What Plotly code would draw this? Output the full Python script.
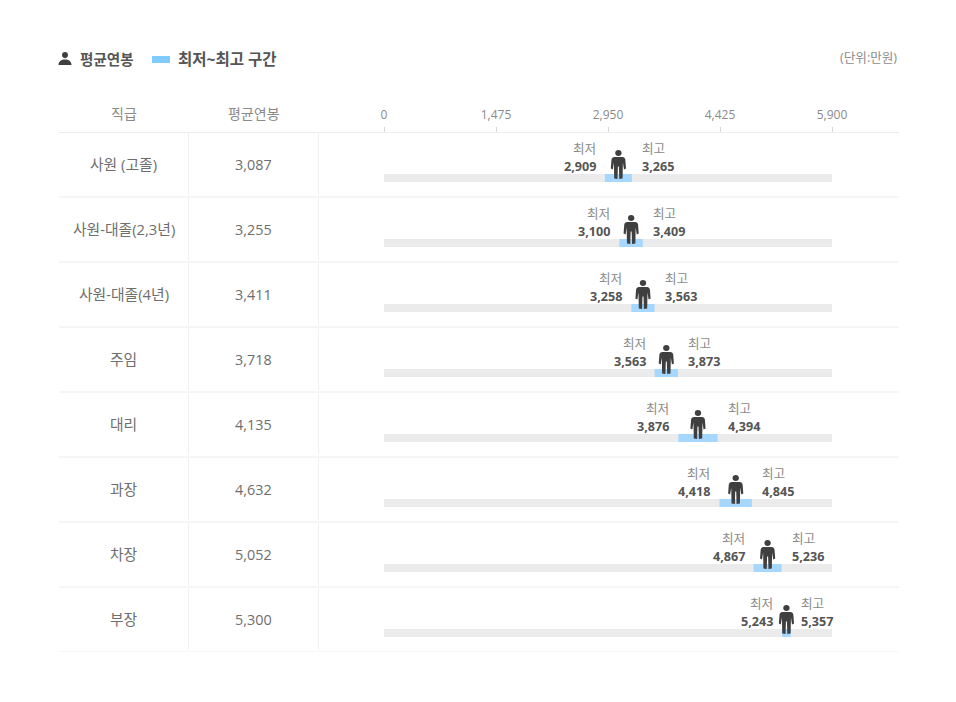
import plotly.graph_objects as go

# data
grades = ["사원 (고졸)", "사원-대졸(2,3년)", "사원-대졸(4년)", "주임", "대리", "과장", "차장", "부장"]
avg_pay = [3087, 3255, 3411, 3718, 4135, 4632, 5052, 5300]
low_pay = [2909, 3100, 3258, 3563, 3876, 4418, 4867, 5243]
high_pay = [3265, 3409, 3563, 3873, 4394, 4845, 5236, 5357]
axis_ticks = [0, 1475, 2950, 4425, 5900]
axis_max = 5900
track_pad = 13

W, H = 956, 702
FONT = "Open Sans, Noto Sans CJK KR, sans-serif"
GREY = "#8a8a8a"
TEXT = "#6e6e6e"
DARK = "#555555"
LINE = "#ececec"
ICON = "#3f3f3f"

# person icon, pixels around its anchor (y points up here)
PERSON = (
    "M0,14.5 C1.9,14.5 3.2,13.2 3.2,11.5 C3.2,9.8 1.9,8.5 0,8.5 "
    "C-1.9,8.5 -3.2,9.8 -3.2,11.5 C-3.2,13.2 -1.9,14.5 0,14.5 Z "
    "M-4,7.5 L4,7.5 C5.6,7.5 6.6,6.5 6.9,5 L7.6,-4 L5.6,-5 L4.5,2 L4.2,-14 L0.9,-14.5 "
    "L0.5,-2 L-0.5,-2 L-0.9,-14.5 L-4.2,-14 L-4.5,2 L-5.6,-5 L-7.6,-4 L-6.9,5 C-6.6,6.5 -5.6,7.5 -4,7.5 Z"
)
PERSON_SMALL = (
    "M0,6.5 C1.8,6.5 3,5.2 3,3.4 C3,1.6 1.8,0.3 0,0.3 C-1.8,0.3 -3,1.6 -3,3.4 "
    "C-3,5.2 -1.8,6.5 0,6.5 Z M-6.5,-6.5 C-6.5,-2.8 -3.5,-1 0,-1 C3.5,-1 6.5,-2.8 6.5,-6.5 Z"
)

fig = go.Figure()

# grey track
fig.add_trace(go.Bar(
    y=grades, x=[axis_max + 2 * track_pad] * len(grades), base=-track_pad, orientation="h",
    width=8 / 65, offset=9.5 / 65, marker=dict(color="#ebebeb", line_width=0), hoverinfo="skip",
    cliponaxis=False,
))
# low-high band
fig.add_trace(go.Bar(
    y=grades, x=[h - l for h, l in zip(high_pay, low_pay)], base=low_pay, orientation="h",
    width=8 / 65, offset=9.5 / 65, marker=dict(color="#a6d8ff", line_width=0), hoverinfo="skip",
    cliponaxis=False,
))

shapes = []
annotations = []


def label(text, x, y, size=14, color=TEXT, bold=False, anchor="center", xref="paper", yref="y", xshift=0, yshift=0, pad=1):
    annotations.append(dict(
        text=f"<b>{text}</b>" if bold else text, x=x, y=y, xref=xref, yref=yref,
        xanchor=anchor, yanchor="middle", xshift=xshift, yshift=yshift, showarrow=False, borderpad=pad,
        font=dict(family=FONT, size=size, color=color),
    ))


def px_x(v):
    return v / W


def px_y(v):
    return 1 - v / H


for i, grade in enumerate(grades):
    # row rule and column separators
    shapes.append(dict(type="line", xref="paper", yref="y", x0=px_x(59), x1=px_x(899), y0=i + 0.5, y1=i + 0.5,
                       line=dict(color=LINE, width=1)))
    for col in (188.5, 318.5):
        shapes.append(dict(type="line", xref="paper", yref="y", x0=px_x(col), x1=px_x(col), y0=i - 0.48, y1=i + 0.47,
                           line=dict(color="#f0f0f0", width=1)))
    shapes.append(dict(type="path", path=PERSON, xref="x", yref="y", xsizemode="pixel", ysizemode="pixel",
                       xanchor=avg_pay[i], yanchor=i, fillcolor=ICON, line_width=0))

    label(grade, px_x(123.5), i, size=14.8, yshift=0.5)
    label(f"{avg_pay[i]:,}", px_x(253.5), i, size=14.4, yshift=0.5)
    label("최저", low_pay[i], i, size=12.6, color=GREY, anchor="right", xref="x", xshift=-8, yshift=16, pad=0)
    label(f"{low_pay[i]:,}", low_pay[i], i, size=12.6, color=DARK, bold=True, anchor="right", xref="x", xshift=-8, yshift=-1.5, pad=0)
    label("최고", high_pay[i], i, size=12.6, color=GREY, anchor="left", xref="x", xshift=9, yshift=16, pad=0)
    label(f"{high_pay[i]:,}", high_pay[i], i, size=12.6, color=DARK, bold=True, anchor="left", xref="x", xshift=9, yshift=-1.5, pad=0)

# top rule
shapes.append(dict(type="line", xref="paper", yref="paper", x0=px_x(59), x1=px_x(899), y0=px_y(132.5), y1=px_y(132.5),
                   line=dict(color=LINE, width=1)))

# legend row
shapes.append(dict(type="path", path=PERSON_SMALL, xref="paper", yref="paper", xsizemode="pixel", ysizemode="pixel",
                   xanchor=px_x(65), yanchor=px_y(58.5), fillcolor=ICON, line_width=0))
shapes.append(dict(type="rect", xref="paper", yref="paper", x0=px_x(152), x1=px_x(170), y0=px_y(56), y1=px_y(63),
                   fillcolor="#80ccff", line_width=0))
label("평균연봉", px_x(77.5), px_y(58.5), size=14.6, color=DARK, bold=True, anchor="left", yref="paper")
label("최저~최고 구간", px_x(176), px_y(58.5), size=15.5, color=DARK, bold=True, anchor="left", yref="paper")
label("(단위:만원)", px_x(899), px_y(57.5), size=12.6, color=GREY, anchor="right", yref="paper")

# table header
label("직급", px_x(123.5), px_y(113.5), size=14, color=GREY, yref="paper")
label("평균연봉", px_x(253.5), px_y(113.5), size=14, color=GREY, yref="paper")

fig.update_layout(
    width=W, height=H, margin=dict(l=0, r=0, t=0, b=0, autoexpand=False),
    paper_bgcolor="white", plot_bgcolor="white",
    barmode="overlay", showlegend=False,
    shapes=shapes, annotations=annotations,
    font=dict(family=FONT),
    xaxis=dict(
        domain=[384 / W, 832 / W], range=[0, axis_max], side="top", anchor="free", position=px_y(132),
        tickmode="array", tickvals=axis_ticks, ticktext=[f"{t:,}" for t in axis_ticks],
        ticks="outside", ticklen=5, tickcolor="#d9d9d9", tickfont=dict(size=12, color=GREY, family=FONT),
        ticklabelstandoff=3,
        showgrid=False, zeroline=False, showline=False, automargin=False,
    ),
    yaxis=dict(
        domain=[px_y(652), px_y(132)], range=[7.5, -0.5], type="category",
        categoryorder="array", categoryarray=grades,
        showticklabels=False, ticks="", showgrid=False, zeroline=False, showline=False, automargin=False,
    ),
)

fig.write_html("out.html", config=dict(displayModeBar=False), post_script="document.body.style.margin='0';")
